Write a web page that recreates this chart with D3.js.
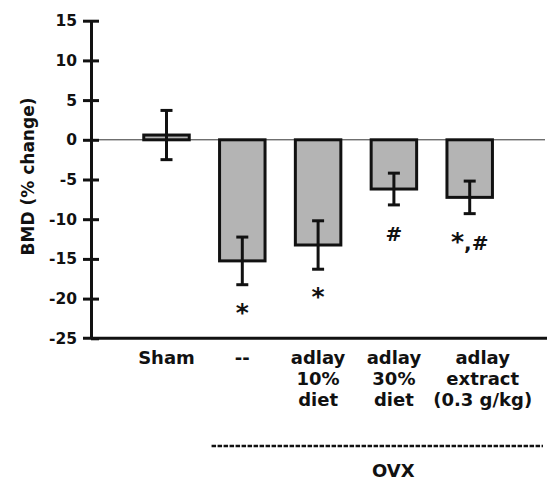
<!DOCTYPE html>
<html>
  <head>
    <meta charset="utf-8">
    <title>BMD % change</title>
    <script src="https://cdn.jsdelivr.net/npm/d3@7"></script>
    <style>
      body { margin: 0; background: #fff; }
      svg { display: block; }
      text { font-family: "DejaVu Sans", sans-serif; font-weight: bold; fill: #111; }
    </style>
  </head>
  <body>
    <svg id="chart" width="549" height="481"></svg>
    <script>
      // data
      groups = ["Sham", "--", "adlay 10% diet", "adlay 30% diet", "adlay extract"];
      labelLines = [["Sham"], ["--"], ["adlay", "10%", "diet"], ["adlay", "30%", "diet"], ["adlay", "extract", "(0.3 g/kg)"]];
      means = [0.6, -15.25, -13.25, -6.2, -7.25];
      errors = [3.1, 3.0, 3.05, 2.0, 2.05];
      marks = ["", "*", "*", "#", "*,#"];
      yTicks = [15, 10, 5, 0, -5, -10, -15, -20, -25];
      groupLabel = "OVX";

      svg = d3.select("#chart");
      axisX = 91;

      // scales
      y = d3.scaleLinear().domain([-25, 15]).range([338.3, 20.7]);
      x = d3.scaleBand().domain(groups).range([128.6, 507.6])
        .paddingInner(0.4).paddingOuter(0.2);

      // zero line
      svg.append("line")
        .attr("x1", axisX).attr("x2", 545)
        .attr("y1", y(0)).attr("y2", y(0))
        .attr("stroke", "#333").attr("stroke-width", 1);

      // bars
      bars = svg.selectAll(".bar")
          .data(groups)
        .enter().append("g")
          .classed("bar", true);
      bars.append("rect")
        .attr("x", function(d) { return x(d); })
        .attr("width", x.bandwidth())
        .attr("y", function(d, i) { return y(Math.max(0, means[i])); })
        .attr("height", function(d, i) { return Math.abs(y(means[i]) - y(0)); })
        .attr("fill", "#b4b4b4")
        .attr("stroke", "#111")
        .attr("stroke-width", 3);

      // error bars
      cx = function(d) { return x(d) + x.bandwidth() / 2; };
      bars.append("line")
        .attr("x1", cx).attr("x2", cx)
        .attr("y1", function(d, i) { return y(means[i] + errors[i]); })
        .attr("y2", function(d, i) { return y(means[i] - errors[i]); })
        .attr("stroke", "#111").attr("stroke-width", 3);
      [1, -1].forEach(function(s) {
        bars.append("line")
          .attr("x1", function(d) { return cx(d) - 6; })
          .attr("x2", function(d) { return cx(d) + 6; })
          .attr("y1", function(d, i) { return y(means[i] + s * errors[i]); })
          .attr("y2", function(d, i) { return y(means[i] + s * errors[i]); })
          .attr("stroke", "#111").attr("stroke-width", 3);
      });

      // significance marks (asterisks drawn a bit bigger, like the original)
      marksText = bars.append("text")
        .attr("x", cx)
        .attr("y", function(d, i) { return y(means[i] - errors[i]) + 36; })
        .attr("text-anchor", "middle")
        .style("font-size", "20px");
      marksText.each(function(d, i) {
        var t = d3.select(this);
        marks[i].split("").forEach(function(c) {
          t.append("tspan")
            .style("font-size", c === "*" ? "25px" : "20px")
            .text(c);
        });
      });

      // y axis
      yAxis = svg.append("g")
        .attr("transform", "translate(" + axisX + ",0)")
        .call(d3.axisLeft(y).tickValues(yTicks).tickSize(8).tickSizeOuter(0)
          .tickFormat(function(d) { return String(d); }));
      yAxis.select(".domain").attr("stroke", "#111").attr("stroke-width", 3);
      yAxis.selectAll(".tick line")
        .attr("x1", 8).attr("x2", function(d) { return d === -25 ? 0 : -8; })
        .attr("stroke", "#111").attr("stroke-width", 3);
      yAxis.selectAll(".tick text")
        .attr("x", -14)
        .style("font-size", "15.5px")
        .style("font-family", "DejaVu Sans")
        .style("font-weight", "bold")
        .attr("fill", "#111");

      // x axis line
      svg.append("line")
        .attr("x1", axisX - 8).attr("x2", 547)
        .attr("y1", y(-25)).attr("y2", y(-25))
        .attr("stroke", "#111").attr("stroke-width", 3);

      // category labels
      labels = svg.selectAll(".cat")
          .data(groups)
        .enter().append("text")
          .classed("cat", true)
          .attr("y", y(-25) + 26)
          .attr("text-anchor", "middle")
          .style("font-size", "18px");
      labels.each(function(d, i) {
        var t = d3.select(this);
        labelLines[i].forEach(function(line, j) {
          t.append("tspan")
            .attr("x", cx(d) + (i === 4 ? 13 : 0))
            .attr("dy", j === 0 ? 0 : 21)
            .text(line);
        });
      });

      // OVX group bracket
      gx1 = x(groups[1]) - 8;
      gx2 = 543;
      svg.append("line")
        .attr("x1", gx1).attr("x2", gx2)
        .attr("y1", 446).attr("y2", 446)
        .attr("stroke", "#111").attr("stroke-width", 2.5)
        .attr("stroke-dasharray", "4.5,1.5");
      svg.append("text")
        .attr("x", (gx1 + gx2) / 2 + 16)
        .attr("y", 476.5)
        .attr("text-anchor", "middle")
        .style("font-size", "18px")
        .text(groupLabel);

      // y title
      svg.append("text")
        .attr("transform", "translate(34," + ((88 + 265) / 2) + ") rotate(-90)")
        .attr("text-anchor", "middle")
        .style("font-size", "17px")
        .text("BMD (% change)");
    </script>
  </body>
</html>
